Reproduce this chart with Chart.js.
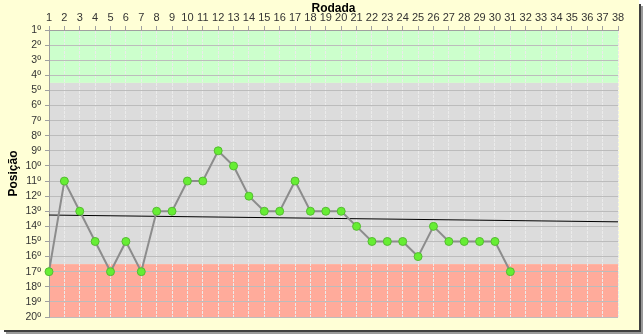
<!DOCTYPE html>
<html>
<head>
<meta charset="utf-8">
<script src="https://cdn.jsdelivr.net/npm/chart.js@4"></script>
<style>
  body { margin: 0; background: #fff; }
  canvas { display: block; }
</style>
</head>
<body>
<canvas id="myChart" width="644" height="335"></canvas>
<script>
// rodadas e posições
const rodadas = [1, 2, 3, 4, 5, 6, 7, 8, 9, 10, 11, 12, 13, 14, 15, 16, 17, 18, 19, 20, 21, 22, 23, 24, 25, 26, 27, 28, 29, 30, 31];
const posicoes = [17, 11, 13, 15, 17, 15, 17, 13, 13, 11, 11, 9, 10, 12, 13, 13, 11, 13, 13, 13, 14, 15, 15, 15, 16, 14, 15, 15, 15, 15, 17];
const tendenciaX = [1, 38];
const tendenciaY = [13.25, 13.7];
// faixas: classificação / meio / rebaixamento
const faixas = [
    { de: 1, ate: 4.5, cor: '#ccffcc' },
    { de: 4.5, ate: 16.5, cor: '#dcdcdc' },
    { de: 16.5, ate: 20, cor: '#ffab9b' }
];

const fundo = {
    id: 'fundo',
    beforeDraw(chart) {
        const c = chart.ctx;
        c.save();
        c.fillStyle = '#ffffff';
        c.fillRect(0, 0, chart.width, chart.height);
        c.fillStyle = '#ffffd6';
        c.fillRect(0, 0, 639, 330);
        c.fillStyle = '#404040';
        c.fillRect(639, 4, 2, 328);
        c.fillRect(4, 330, 637, 2);
        c.fillStyle = '#9a9a9a';
        c.fillRect(641, 6, 2, 328);
        c.fillRect(6, 332, 637, 2);
        c.restore();
    }
};

const bandas = {
    id: 'bandas',
    beforeDraw(chart) {
        const c = chart.ctx;
        const x = chart.scales.x, y = chart.scales.y;
        c.save();
        faixas.forEach(f => {
            const y1 = y.getPixelForValue(f.de);
            const y2 = y.getPixelForValue(f.ate);
            c.fillStyle = f.cor;
            c.fillRect(x.left, y1, x.right - x.left, y2 - y1);
        });
        c.restore();
    }
};

const ctx = document.getElementById('myChart');

new Chart(ctx, {
    type: 'line',
    data: {
        datasets: [{
            label: 'Tendência',
            data: tendenciaX.map((v, i) => ({ x: v, y: tendenciaY[i] })),
            borderColor: '#000000',
            borderWidth: 1,
            pointRadius: 0,
            order: 2
        }, {
            label: 'Posição',
            data: rodadas.map((r, i) => ({ x: r, y: posicoes[i] })),
            borderColor: '#8c8c8c',
            borderWidth: 2,
            pointRadius: 4,
            pointBackgroundColor: '#66ee33',
            pointBorderColor: '#55bb33',
            pointBorderWidth: 1,
            clip: false,
            order: 1
        }]
    },
    options: {
        responsive: false,
        animation: false,
        layout: { padding: { left: 0, right: 26, top: 0, bottom: 18 } },
        plugins: {
            legend: { display: false },
            tooltip: { enabled: false }
        },
        scales: {
            x: {
                type: 'linear',
                position: 'top',
                min: 1,
                max: 38,
                ticks: {
                    stepSize: 1,
                    autoSkip: false,
                    maxRotation: 0,
                    padding: 1,
                    color: '#333',
                    font: { family: 'Liberation Sans, Arial', size: 11 }
                },
                grid: { color: '#ebebeb', tickLength: 4, tickColor: '#a0a0a0' },
                border: { color: '#a0a0a0', dash: [3, 1] },
                title: {
                    display: true,
                    text: 'Rodada',
                    color: '#000',
                    padding: { top: 1, bottom: 0 },
                    font: { family: 'Liberation Sans, Arial', size: 12, weight: 'bold' }
                },
                afterFit(scale) { scale.height = 30; }
            },
            y: {
                reverse: true,
                min: 1,
                max: 20,
                ticks: {
                    stepSize: 1,
                    autoSkip: false,
                    padding: 4,
                    color: '#333',
                    font: { family: 'Liberation Sans, Arial', size: 10.5 },
                    callback: v => v + 'º'
                },
                grid: { color: '#bcbcbc', tickLength: 4, tickColor: '#a0a0a0' },
                border: { color: '#a0a0a0' },
                title: {
                    display: true,
                    text: 'Posição',
                    color: '#000',
                    padding: { top: 6, bottom: 0 },
                    font: { family: 'Liberation Sans, Arial', size: 12, weight: 'bold' }
                },
                afterFit(scale) { scale.width = 49; }
            }
        }
    },
    plugins: [fundo, bandas]
});
</script>
</body>
</html>
